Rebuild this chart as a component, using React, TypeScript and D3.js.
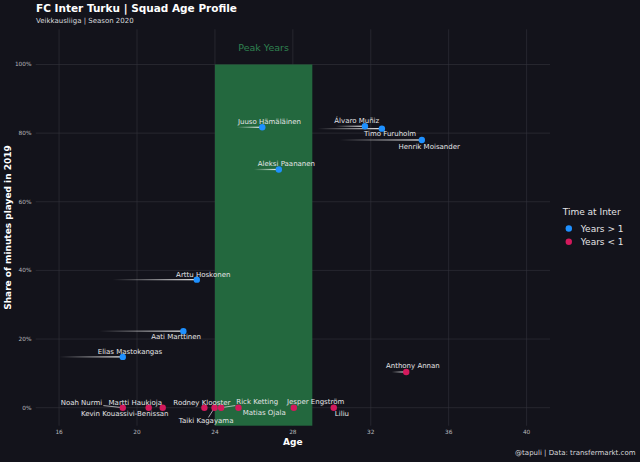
import { useEffect, useRef } from "react";
import * as d3 from "d3";

const width = 640;
const height = 462;
const panel = { left: 35.7, right: 550, top: 29.3, bottom: 425.7 };
const font = "'DejaVu Sans', sans-serif";

const players = [
  "Elias Mastokangas", "Aati Marttinen", "Arttu Hoskonen", "Juuso Hämäläinen",
  "Aleksi Paananen", "Álvaro Muñiz", "Timo Furuholm", "Henrik Moisander",
  "Anthony Annan", "Noah Nurmi", "Kevin Kouassivi-Benissan", "Martti Haukioja",
  "Rodney Klooster", "Taiki Kagayama", "Rick Ketting", "Matias Ojala",
  "Jesper Engström", "Liliu",
];
const ages = [19.27, 22.38, 23.07, 26.43, 27.28, 31.7, 32.57, 34.62, 33.82, 19.27, 20.6, 21.32, 23.46, 23.98, 24.32, 25.21, 28.05, 30.1];
const shares = [14.8, 22.3, 37.3, 81.7, 69.4, 82.0, 81.3, 78.0, 10.4, 0, 0, 0, 0, 0, 0, 0, 0, 0];
const tenure = [">", ">", ">", ">", ">", ">", ">", ">", "<", "<", "<", "<", "<", "<", "<", "<", "<", "<"];
const joinAges: (number | null)[] = [16.0, 18.07, 18.75, 25.12, 26.0, 30.2, 29.28, 30.4, 33.08, null, null, null, null, null, null, null, null, null];
// where the repelled labels ended up (age, share)
const labelAges = [19.64, 22.01, 23.4, 26.8, 27.67, 31.28, 32.99, 35.0, 34.16, 17.15, 19.37, 19.91, 23.33, 23.55, 26.17, 26.53, 29.17, 30.52];
const labelShares = [16.3, 20.5, 38.8, 83.2, 71.1, 83.4, 79.7, 76.0, 12.2, 1.3, -1.84, 1.37, 1.37, -3.9, 1.57, -1.6, 1.57, -1.84];

const xTicks = [16, 20, 24, 28, 32, 36, 40];
const yTicks = [0, 20, 40, 60, 80, 100];
const peakYears = [24, 29];
const groups = [">", "<"];
const groupLabels = ["Years > 1", "Years < 1"];
const groupColors = ["#1e90ff", "#d3195c"];

const buildChart = (ref: SVGSVGElement) => {
  const svg = d3.select(ref);
  svg.selectAll("*").remove();

  const x = d3.scaleLinear().domain([16 - 1.2, 40 + 1.2]).range([panel.left, panel.right]);
  const y = d3.scaleLinear().domain([-5.25, 110.25]).range([panel.bottom, panel.top]);
  const color = d3.scaleOrdinal<string>().domain(groups).range(groupColors);

  svg.append("rect").attr("width", width).attr("height", height).attr("fill", "#13131b");

  const grid = svg.append("g").attr("stroke", "#34343c").attr("stroke-width", 0.6);
  grid.selectAll("line.v").data(xTicks).enter().append("line")
    .attr("x1", (d) => x(d)).attr("x2", (d) => x(d))
    .attr("y1", panel.top).attr("y2", panel.bottom);
  grid.selectAll("line.h").data(yTicks).enter().append("line")
    .attr("y1", (d) => y(d)).attr("y2", (d) => y(d))
    .attr("x1", panel.left).attr("x2", panel.right);

  // peak years block
  svg.append("rect")
    .attr("x", x(peakYears[0]))
    .attr("width", x(peakYears[1]) - x(peakYears[0]))
    .attr("y", y(100))
    .attr("height", panel.bottom - y(100))
    .attr("fill", "#23683e");
  svg.append("text")
    .text("Peak Years")
    .attr("x", x(d3.mean(peakYears)!))
    .attr("y", y(105))
    .attr("text-anchor", "middle")
    .attr("dominant-baseline", "central")
    .attr("fill", "#2f8150")
    .style("font", `9.5px ${font}`);

  // axis labels
  svg.append("g").selectAll("text").data(yTicks).enter().append("text")
    .text((d) => `${d}%`)
    .attr("x", 31.5).attr("y", (d) => y(d))
    .attr("text-anchor", "end").attr("dominant-baseline", "central")
    .attr("fill", "#b8b8bc").style("font", `5.8px ${font}`);
  svg.append("g").selectAll("text").data(xTicks).enter().append("text")
    .text((d) => d)
    .attr("x", (d) => x(d)).attr("y", 432.3)
    .attr("text-anchor", "middle").attr("dominant-baseline", "central")
    .attr("fill", "#b8b8bc").style("font", `5.8px ${font}`);

  // tenure trails
  const defs = svg.append("defs");
  const rows = players.map((name, i) => ({
    i, name, age: ages[i], share: shares[i], group: tenure[i], join: joinAges[i],
    lx: x(labelAges[i]), ly: y(labelShares[i]),
  }));
  rows.filter((d) => d.join !== null).forEach((d) => {
    const id = `trail${d.i}`;
    const grad = defs.append("linearGradient").attr("id", id)
      .attr("gradientUnits", "userSpaceOnUse")
      .attr("x1", x(d.join!)).attr("x2", x(d.age)).attr("y1", 0).attr("y2", 0);
    grad.append("stop").attr("offset", 0).attr("stop-color", "#ffffff").attr("stop-opacity", 0);
    grad.append("stop").attr("offset", 1).attr("stop-color", "#ffffff").attr("stop-opacity", 0.95);
    svg.append("rect")
      .attr("x", x(d.join!)).attr("width", x(d.age) - x(d.join!))
      .attr("y", y(d.share) - 0.6).attr("height", 1.2)
      .attr("fill", `url(#${id})`);
  });

  // labels first so the boxes can be measured
  const labelG = svg.append("g");
  const labels = labelG.selectAll("text").data(rows).enter().append("text")
    .text((d) => d.name)
    .attr("x", (d) => d.lx).attr("y", (d) => d.ly)
    .attr("text-anchor", "middle").attr("dominant-baseline", "central")
    .attr("fill", "#e4e4e6").style("font", `7px ${font}`);

  const segG = svg.insert("g", () => labelG.node());
  labels.each(function (d) {
    const box = (this as SVGTextElement).getBBox();
    const px = x(d.age), py = y(d.share);
    const hw = box.width / 2 + 1, hh = 3.6;
    const dx = d.lx - px, dy = d.ly - py;
    const outX = Math.max(0, Math.abs(dx) - hw), outY = Math.max(0, Math.abs(dy) - hh);
    if (Math.hypot(outX, outY) < 6) return;
    // cut the line to the label centre at the edge of its box
    const tx = Math.abs(dx) > hw ? 1 - hw / Math.abs(dx) : 0;
    const ty = Math.abs(dy) > hh ? 1 - hh / Math.abs(dy) : 0;
    const t = Math.max(tx, ty);
    segG.append("line")
      .attr("x1", px).attr("y1", py)
      .attr("x2", px + dx * t).attr("y2", py + dy * t)
      .attr("stroke", "#e4e4e6").attr("stroke-width", 0.7);
  });

  svg.insert("g", () => labelG.node()).selectAll("circle").data(rows).enter().append("circle")
    .attr("cx", (d) => x(d.age)).attr("cy", (d) => y(d.share))
    .attr("r", 3.2).attr("fill", (d) => color(d.group));

  // titles
  svg.append("text").text("FC Inter Turku | Squad Age Profile")
    .attr("x", 36).attr("y", 11.8).attr("fill", "#ffffff")
    .style("font", `bold 10.5px ${font}`);
  svg.append("text").text("Veikkausliiga | Season 2020")
    .attr("x", 36).attr("y", 23.3).attr("fill", "#d8d8dc")
    .style("font", `7px ${font}`);
  svg.append("text").text("Age")
    .attr("x", (panel.left + panel.right) / 2).attr("y", 441.7)
    .attr("text-anchor", "middle").attr("dominant-baseline", "central")
    .attr("fill", "#ffffff").style("font", `bold 9px ${font}`);
  svg.append("text").text("Share of minutes played in 2019")
    .attr("transform", `translate(8.2 ${(panel.top + panel.bottom) / 2}) rotate(-90)`)
    .attr("text-anchor", "middle").attr("dominant-baseline", "central")
    .attr("fill", "#ffffff").style("font", `bold 9px ${font}`);
  svg.append("text").text("@tapuli | Data: transfermarkt.com")
    .attr("x", 635.5).attr("y", 453.3)
    .attr("text-anchor", "end").attr("dominant-baseline", "central")
    .attr("fill", "#d8d8dc").style("font", `7px ${font}`);

  // legend
  const legend = svg.append("g");
  legend.append("text").text("Time at Inter")
    .attr("x", 562.7).attr("y", 212.3).attr("dominant-baseline", "central")
    .attr("fill", "#e4e4e6").style("font", `9px ${font}`);
  groups.forEach((g, i) => {
    const ly = 228.5 + i * 13.2;
    legend.append("circle").attr("cx", 568.8).attr("cy", ly).attr("r", 3.2).attr("fill", color(g));
    legend.append("text").text(groupLabels[i])
      .attr("x", 580.8).attr("y", ly).attr("dominant-baseline", "central")
      .attr("fill", "#e4e4e6").style("font", `9px ${font}`);
  });
};

export default function App() {
  const ref = useRef<SVGSVGElement>(null);
  useEffect(() => {
    if (ref.current) buildChart(ref.current);
  }, []);
  return (
    <svg
      ref={ref}
      width={width}
      height={height}
      style={{ position: "absolute", left: 0, top: 0, display: "block" }}
    />
  );
}
